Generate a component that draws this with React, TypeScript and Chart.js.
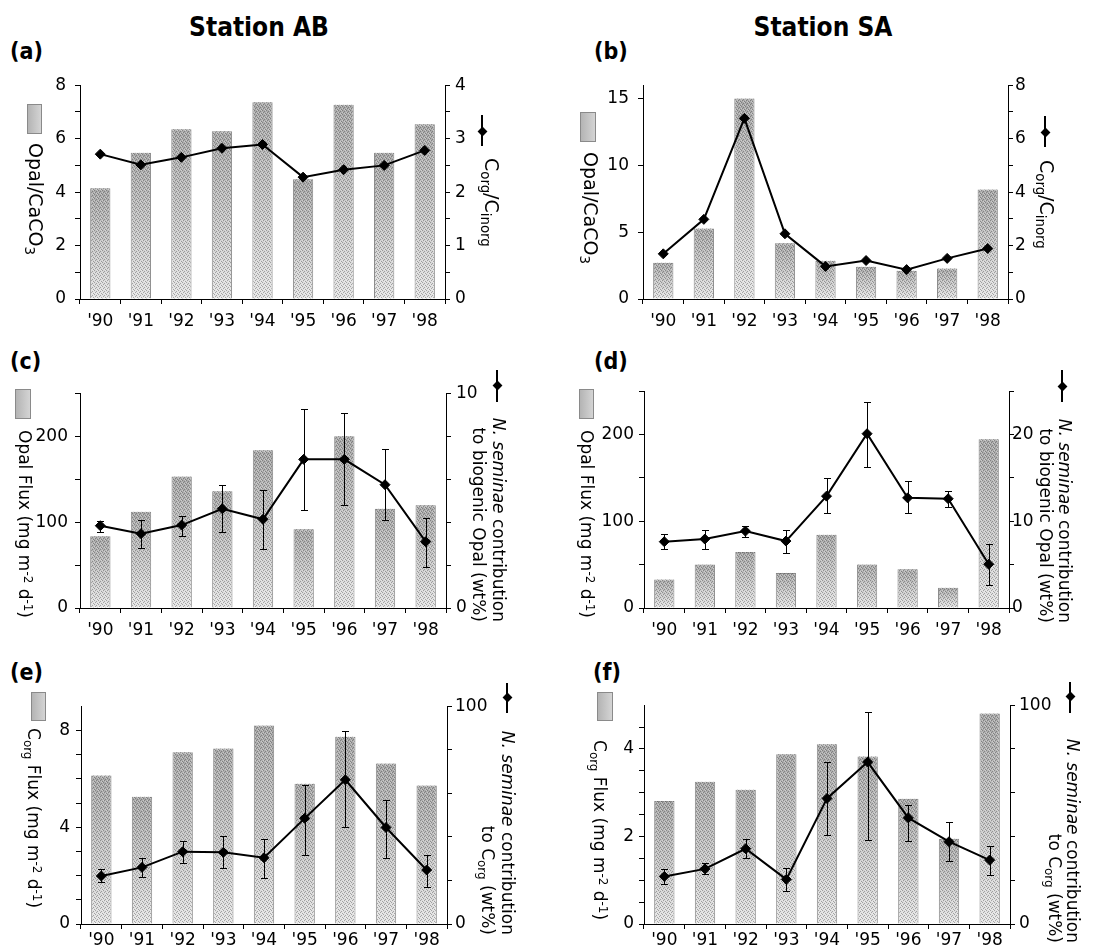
import React, { useEffect, useRef } from 'react';
import { Chart, registerables } from 'chart.js';
Chart.register(...registerables);

const FONT = "'DejaVu Sans Condensed', 'DejaVu Sans', Verdana, sans-serif";
const FONT_R = "'DejaVu Sans', Verdana, sans-serif";

const years = ["'90", "'91", "'92", "'93", "'94", "'95", "'96", "'97", "'98"];

// (a) Station AB
const abOpalCaCO3 = [4.14, 5.47, 6.35, 6.28, 7.36, 4.48, 7.27, 5.47, 6.54];
const abCorgCinorg = [2.71, 2.51, 2.65, 2.82, 2.89, 2.28, 2.42, 2.5, 2.78];
// (b) Station SA
const saOpalCaCO3 = [2.72, 5.28, 15.0, 4.18, 2.87, 2.41, 2.12, 2.29, 8.19];
const saCorgCinorg = [1.69, 2.98, 6.76, 2.44, 1.22, 1.44, 1.1, 1.52, 1.89];
// (c) Station AB
const abOpalFlux = [83.4, 112, 153, 136, 183.6, 91.8, 200, 115.5, 119.7];
const abNsOpal = [3.83, 3.46, 3.86, 4.62, 4.13, 6.92, 6.92, 5.74, 3.09];
const abNsOpalHi = [4.06, 4.12, 4.29, 5.74, 5.48, 9.26, 9.07, 7.41, 4.21];
const abNsOpalLo = [3.54, 2.8, 3.37, 3.54, 2.77, 4.55, 4.78, 4.09, 1.93];
// (d) Station SA
const saOpalFlux = [32.9, 50.1, 64.6, 40.5, 84.5, 50.1, 44.7, 23.3, 194.6];
const saNsOpal = [7.65, 7.95, 8.87, 7.72, 12.9, 20.1, 12.7, 12.6, 5.05];
const saNsOpalHi = [8.49, 9.02, 9.48, 9.02, 14.95, 23.8, 14.6, 13.5, 7.34];
const saNsOpalLo = [6.77, 6.77, 8.18, 6.31, 10.94, 16.3, 10.94, 11.6, 2.68];
// (e) Station AB
const abCorgFlux = [6.14, 5.26, 7.1, 7.25, 8.2, 5.8, 7.74, 6.63, 5.72];
const abNsCorg = [22.05, 26.0, 33.2, 32.9, 30.4, 48.5, 66.2, 44.3, 24.8];
const abNsCorgHi = [25.1, 30.2, 38.1, 40.5, 39.1, 63.9, 88.4, 57.0, 31.9];
const abNsCorgLo = [19.2, 21.6, 27.9, 25.5, 21.3, 31.9, 44.6, 30.5, 17.1];
// (f) Station SA
const saCorgFlux = [2.81, 3.25, 3.07, 3.88, 4.11, 3.83, 2.86, 1.95, 4.81];
const saNsCorg = [21.75, 25.2, 34.4, 20.4, 57.4, 74.0, 48.5, 37.6, 29.2];
const saNsCorgHi = [25.1, 27.9, 38.8, 25.7, 74.2, 97.1, 54.5, 46.7, 35.6];
const saNsCorgLo = [18.3, 22.7, 30.2, 15.1, 40.6, 38.2, 37.8, 28.7, 22.4];

// tick values (all tick marks) and labelled ticks
const aLeftTicks = [0, 1, 2, 3, 4, 5, 6, 7, 8];
const aLeftLabels = [0, 2, 4, 6, 8];
const aRightTicks = [0, 0.5, 1, 1.5, 2, 2.5, 3, 3.5, 4];
const aRightLabels = [0, 1, 2, 3, 4];
const bLeftTicks = [0, 5, 10, 15];
const bLeftLabels = [0, 5, 10, 15];
const bRightTicks = [0, 1, 2, 3, 4, 5, 6, 7, 8];
const bRightLabels = [0, 2, 4, 6, 8];
const cdLeftTicks = [0, 50, 100, 150, 200, 250];
const cdLeftLabels = [0, 100, 200];
const cRightTicks = [0, 1, 2, 3, 4, 5, 6, 7, 8, 9, 10];
const cRightLabels = [0, 5, 10];
const dRightTicks = [0, 5, 10, 15, 20, 25];
const dRightLabels = [0, 10, 20];
const eLeftTicks = [0, 1, 2, 3, 4, 5, 6, 7, 8];
const eLeftLabels = [0, 4, 8];
const fLeftTicks = [0, 0.5, 1, 1.5, 2, 2.5, 3, 3.5, 4, 4.5];
const fLeftLabels = [0, 2, 4];
const efRightTicks = [0, 10, 20, 30, 40, 50, 60, 70, 80, 90, 100];
const efRightLabels = [0, 50, 100];

type PanelProps = {
  area: number[];
  pads: number[]; // [left tick padding, right tick padding, x tick padding]
  bars: number[];
  line: number[];
  hi?: number[];
  lo?: number[];
  yMax: number;
  y2Max: number;
  yTicks: number[];
  yLabels: number[];
  y2Ticks: number[];
  y2Labels: number[];
};

let stipple: CanvasPattern | null = null;
function getStipple(ctx: CanvasRenderingContext2D) {
  if (stipple) return stipple;
  const c = document.createElement('canvas');
  c.width = 4;
  c.height = 4;
  const g = c.getContext('2d')!;
  g.fillStyle = 'rgba(50,50,50,0.35)';
  [[0, 0], [2, 1], [1, 2], [3, 3]].forEach(([x, y]) => g.fillRect(x, y, 1, 1));
  g.fillStyle = 'rgba(255,255,255,0.35)';
  [[2, 3], [0, 2], [3, 0]].forEach(([x, y]) => g.fillRect(x, y, 1, 1));
  stipple = ctx.createPattern(c, 'repeat');
  return stipple;
}

function Panel(p: PanelProps) {
  const ref = useRef<HTMLCanvasElement>(null);
  const [L, T, R, B] = p.area;
  const PL = 50, PR = 44, PT = 14, PB = 40;
  const W = R - L + PL + PR;
  const H = B - T + PT + PB;

  useEffect(() => {
    const canvas = ref.current!;
    const tickFont = { family: FONT_R, size: 17 };

    const barFill = (c: any) => {
      const chart = c.chart;
      const ys = chart.scales && chart.scales.y;
      if (c.type !== 'data' || !ys || !chart.chartArea) return '#c6c6c6';
      const top = ys.getPixelForValue(c.raw);
      const bot = ys.getPixelForValue(0);
      if (!isFinite(top) || !isFinite(bot) || bot - top < 1) return '#c6c6c6';
      const g = chart.ctx.createLinearGradient(0, top, 0, bot);
      g.addColorStop(0, '#a8a8a8');
      g.addColorStop(1, '#e6e6e6');
      return g;
    };

    const texturePlugin = {
      id: 'stippleBars',
      afterDatasetDraw(chart: any, args: any) {
        if (args.index !== 1) return;
        const ctx = chart.ctx;
        const pat = getStipple(ctx);
        if (!pat) return;
        ctx.save();
        ctx.fillStyle = pat;
        args.meta.data.forEach((bar: any) => {
          const w = bar.width;
          ctx.fillRect(bar.x - w / 2 + 1, bar.y, w - 2, bar.base - bar.y);
        });
        ctx.restore();
      },
    };

    const errPlugin = {
      id: 'errBars',
      afterDatasetsDraw(chart: any) {
        if (!p.hi || !p.lo) return;
        const meta = chart.getDatasetMeta(0);
        const s = chart.scales.y2;
        const ctx = chart.ctx;
        ctx.save();
        ctx.strokeStyle = '#000';
        ctx.lineWidth = 1;
        meta.data.forEach((pt: any, i: number) => {
          const x = Math.round(pt.x) + 0.5;
          const y1 = Math.round(s.getPixelForValue(p.hi![i])) + 0.5;
          const y2 = Math.round(s.getPixelForValue(p.lo![i])) + 0.5;
          ctx.beginPath();
          ctx.moveTo(x, y1);
          ctx.lineTo(x, y2);
          ctx.moveTo(x - 3.5, y1);
          ctx.lineTo(x + 3.5, y1);
          ctx.moveTo(x - 3.5, y2);
          ctx.lineTo(x + 3.5, y2);
          ctx.stroke();
        });
        ctx.restore();
      },
    };

    const chart = new Chart(canvas, {
      type: 'bar',
      data: {
        labels: years,
        datasets: [
          {
            type: 'line',
            data: p.line,
            yAxisID: 'y2',
            order: 0,
            borderColor: '#000',
            borderWidth: 2,
            pointStyle: 'rectRot',
            pointRadius: 5,
            pointBackgroundColor: '#000',
            pointBorderColor: '#000',
            pointBorderWidth: 1,
            tension: 0,
            fill: false,
          } as any,
          {
            type: 'bar',
            data: p.bars,
            yAxisID: 'y',
            order: 1,
            backgroundColor: barFill,
            borderColor: '#8a8a8a',
            borderWidth: 1,
            categoryPercentage: 0.5,
            barPercentage: 1,
          } as any,
        ],
      },
      options: {
        responsive: false,
        maintainAspectRatio: false,
        animation: false,
        layout: { padding: { left: 0, right: 0, top: PT, bottom: 0 } },
        plugins: { legend: { display: false }, tooltip: { enabled: false } },
        scales: {
          x: {
            type: 'category',
            offset: true,
            grid: { offset: true, drawOnChartArea: false, tickLength: 5, color: '#000', lineWidth: 1 },
            border: { display: true, color: '#000', width: 1 },
            ticks: { font: tickFont, color: '#000', padding: p.pads[2], maxRotation: 0, autoSkip: false },
            afterFit: (s: any) => { s.height = PB; },
          },
          y: {
            type: 'linear',
            position: 'left',
            min: 0,
            max: p.yMax,
            afterBuildTicks: (s: any) => { s.ticks = p.yTicks.map((v) => ({ value: v })); },
            ticks: {
              font: tickFont,
              color: '#000',
              padding: p.pads[0],
              callback: (v: any) => (p.yLabels.includes(Number(v)) ? String(v) : ''),
            },
            grid: { drawOnChartArea: false, tickLength: 5, color: '#000' },
            border: { display: true, color: '#000', width: 1 },
            afterFit: (s: any) => { s.width = PL; },
          },
          y2: {
            type: 'linear',
            position: 'right',
            min: 0,
            max: p.y2Max,
            afterBuildTicks: (s: any) => { s.ticks = p.y2Ticks.map((v) => ({ value: v })); },
            ticks: {
              font: tickFont,
              color: '#000',
              padding: p.pads[1],
              callback: (v: any) => (p.y2Labels.includes(Number(v)) ? String(v) : ''),
            },
            grid: { drawOnChartArea: false, tickLength: 5, color: '#000' },
            border: { display: true, color: '#000', width: 1 },
            afterFit: (s: any) => { s.width = PR; },
          },
        },
      } as any,
      plugins: [texturePlugin, errPlugin],
    });
    return () => chart.destroy();
  }, []);

  return (
    <canvas
      ref={ref}
      width={W}
      height={H}
      style={{ position: 'absolute', left: L - PL, top: T - PT, width: W, height: H }}
    />
  );
}

const Sub = ({ children }: any) => (
  <span style={{ fontSize: '0.7em', position: 'relative', top: '0.3em', lineHeight: 0 }}>{children}</span>
);
const Sup = ({ children }: any) => (
  <span style={{ fontSize: '0.7em', position: 'relative', top: '-0.45em', lineHeight: 0 }}>{children}</span>
);

// rotated (90deg clockwise) text; x = baseline position, y = start (or end if alignEnd)
function RotText({ x, y, fs, alignEnd, children }: any) {
  const lh = Math.round(fs * 1.25);
  const bo = (lh - 1.164 * fs) / 2 + 0.928 * fs;
  const span = 420;
  return (
    <div
      style={{
        position: 'absolute',
        left: x + bo,
        top: alignEnd ? y - span : y,
        width: alignEnd ? span : undefined,
        textAlign: alignEnd ? 'right' : 'left',
        transform: 'rotate(90deg)',
        transformOrigin: '0 0',
        whiteSpace: 'nowrap',
        fontFamily: FONT_R,
        fontSize: fs,
        lineHeight: lh + 'px',
        color: '#000',
      }}
    >
      {children}
    </div>
  );
}

function Swatch({ x, y, w, h }: any) {
  return (
    <div
      style={{
        position: 'absolute',
        left: x,
        top: y,
        width: w - 2,
        height: h - 2,
        border: '1px solid #8a8a8a',
        background: 'linear-gradient(to right, #b4b4b4, #d4d4d4)',
      }}
    />
  );
}

function LineSymbol({ x, y1, y2, yd }: any) {
  return (
    <>
      <div style={{ position: 'absolute', left: x - 1, top: y1, width: 2, height: y2 - y1, background: '#000' }} />
      <div
        style={{
          position: 'absolute',
          left: x - 3.5,
          top: yd - 3.5,
          width: 7,
          height: 7,
          background: '#000',
          transform: 'rotate(45deg)',
        }}
      />
    </>
  );
}

function HText({ x, y, fs, bold, center, children }: any) {
  return (
    <div
      style={{
        position: 'absolute',
        left: center ? x - 200 : x,
        top: y,
        width: center ? 400 : undefined,
        textAlign: center ? 'center' : 'left',
        whiteSpace: 'nowrap',
        fontFamily: FONT,
        fontWeight: bold ? 'bold' : 'normal',
        fontSize: fs,
        lineHeight: Math.round(fs * 1.22) + 'px',
        color: '#000',
      }}
    >
      {children}
    </div>
  );
}

export default function App() {
  const ns = (
    <>
      <i>N. seminae</i> contribution
    </>
  );
  return (
    <div style={{ position: 'absolute', left: 0, top: 0, width: 1117, height: 952, background: '#fff', overflow: 'hidden' }}>
      <Panel area={[80, 80, 445, 299]} pads={[9, 5, 7]} bars={abOpalCaCO3} line={abCorgCinorg} yMax={8} y2Max={4}
        yTicks={aLeftTicks} yLabels={aLeftLabels} y2Ticks={aRightTicks} y2Labels={aRightLabels} />
      <Panel area={[643, 80, 1008, 299]} pads={[9, 2, 7]} bars={saOpalCaCO3} line={saCorgCinorg} yMax={16} y2Max={8}
        yTicks={bLeftTicks} yLabels={bLeftLabels} y2Ticks={bRightTicks} y2Labels={bRightLabels} />
      <Panel area={[80, 390, 446, 608]} pads={[7, 5, 7]} bars={abOpalFlux} line={abNsOpal} hi={abNsOpalHi} lo={abNsOpalLo} yMax={250} y2Max={10}
        yTicks={cdLeftTicks} yLabels={cdLeftLabels} y2Ticks={cRightTicks} y2Labels={cRightLabels} />
      <Panel area={[644, 390, 1009, 608]} pads={[5, -2, 7]} bars={saOpalFlux} line={saNsOpal} hi={saNsOpalHi} lo={saNsOpalLo} yMax={250} y2Max={25}
        yTicks={cdLeftTicks} yLabels={cdLeftLabels} y2Ticks={dRightTicks} y2Labels={dRightLabels} />
      <Panel area={[81, 704, 447, 924]} pads={[6, 3, 1]} bars={abCorgFlux} line={abNsCorg} hi={abNsCorgHi} lo={abNsCorgLo} yMax={9} y2Max={100}
        yTicks={eLeftTicks} yLabels={eLeftLabels} y2Ticks={efRightTicks} y2Labels={efRightLabels} />
      <Panel area={[644, 704, 1010, 924]} pads={[5, 4, 1]} bars={saCorgFlux} line={saNsCorg} hi={saNsCorgHi} lo={saNsCorgLo} yMax={5} y2Max={100}
        yTicks={fLeftTicks} yLabels={fLeftLabels} y2Ticks={efRightTicks} y2Labels={efRightLabels} />

      {/* titles */}
      <HText x={259} y={11} fs={26} bold center>Station AB</HText>
      <HText x={823} y={11} fs={26} bold center>Station SA</HText>
      <HText x={10} y={37} fs={23} bold>(a)</HText>
      <HText x={594} y={37} fs={23} bold>(b)</HText>
      <HText x={10} y={347} fs={23} bold>(c)</HText>
      <HText x={594} y={347} fs={23} bold>(d)</HText>
      <HText x={10} y={658} fs={23} bold>(e)</HText>
      <HText x={593} y={658} fs={23} bold>(f)</HText>

      {/* (a) */}
      <Swatch x={27} y={104} w={15} h={30} />
      <RotText x={29.5} y={143} fs={19}>Opal/CaCO<Sub>3</Sub></RotText>
      <LineSymbol x={482} y1={115} y2={146} yd={131} />
      <RotText x={485} y={158} fs={19}>C<Sub>org</Sub>/C<Sub>inorg</Sub></RotText>

      {/* (b) */}
      <Swatch x={580} y={112} w={16} h={30} />
      <RotText x={584} y={152} fs={19}>Opal/CaCO<Sub>3</Sub></RotText>
      <LineSymbol x={1045} y1={116} y2={147} yd={132} />
      <RotText x={1040} y={160} fs={19}>C<Sub>org</Sub>/C<Sub>inorg</Sub></RotText>

      {/* (c) */}
      <Swatch x={15} y={389} w={16} h={30} />
      <RotText x={18.5} y={430} fs={17}>Opal Flux (mg m<Sup>-2</Sup> d<Sup>-1</Sup>)</RotText>
      <LineSymbol x={497} y1={370} y2={402} yd={385} />
      <RotText x={493} y={622} fs={17} alignEnd>{ns}</RotText>
      <RotText x={473} y={622} fs={17} alignEnd>to biogenic Opal (wt%)</RotText>

      {/* (d) */}
      <Swatch x={579} y={389} w={15} h={30} />
      <RotText x={580.5} y={430} fs={17}>Opal Flux (mg m<Sup>-2</Sup> d<Sup>-1</Sup>)</RotText>
      <LineSymbol x={1062} y1={370} y2={402} yd={386} />
      <RotText x={1059} y={623} fs={17} alignEnd>{ns}</RotText>
      <RotText x={1040} y={623} fs={17} alignEnd>to biogenic Opal (wt%)</RotText>

      {/* (e) */}
      <Swatch x={31} y={692} w={15} h={29} />
      <RotText x={28} y={728} fs={17}>C<Sub>org</Sub> Flux (mg m<Sup>-2</Sup> d<Sup>-1</Sup>)</RotText>
      <LineSymbol x={507} y1={683} y2={713} yd={697} />
      <RotText x={502} y={935} fs={17} alignEnd>{ns}</RotText>
      <RotText x={482} y={935} fs={17} alignEnd>to C<Sub>org</Sub> (wt%)</RotText>

      {/* (f) */}
      <Swatch x={597} y={692} w={16} h={29} />
      <RotText x={594} y={740} fs={17}>C<Sub>org</Sub> Flux (mg m<Sup>-2</Sup> d<Sup>-1</Sup>)</RotText>
      <LineSymbol x={1070} y1={682} y2={713} yd={696} />
      <RotText x={1067} y={943} fs={17} alignEnd>{ns}</RotText>
      <RotText x={1049} y={943} fs={17} alignEnd>to C<Sub>org</Sub> (wt%)</RotText>
    </div>
  );
}
